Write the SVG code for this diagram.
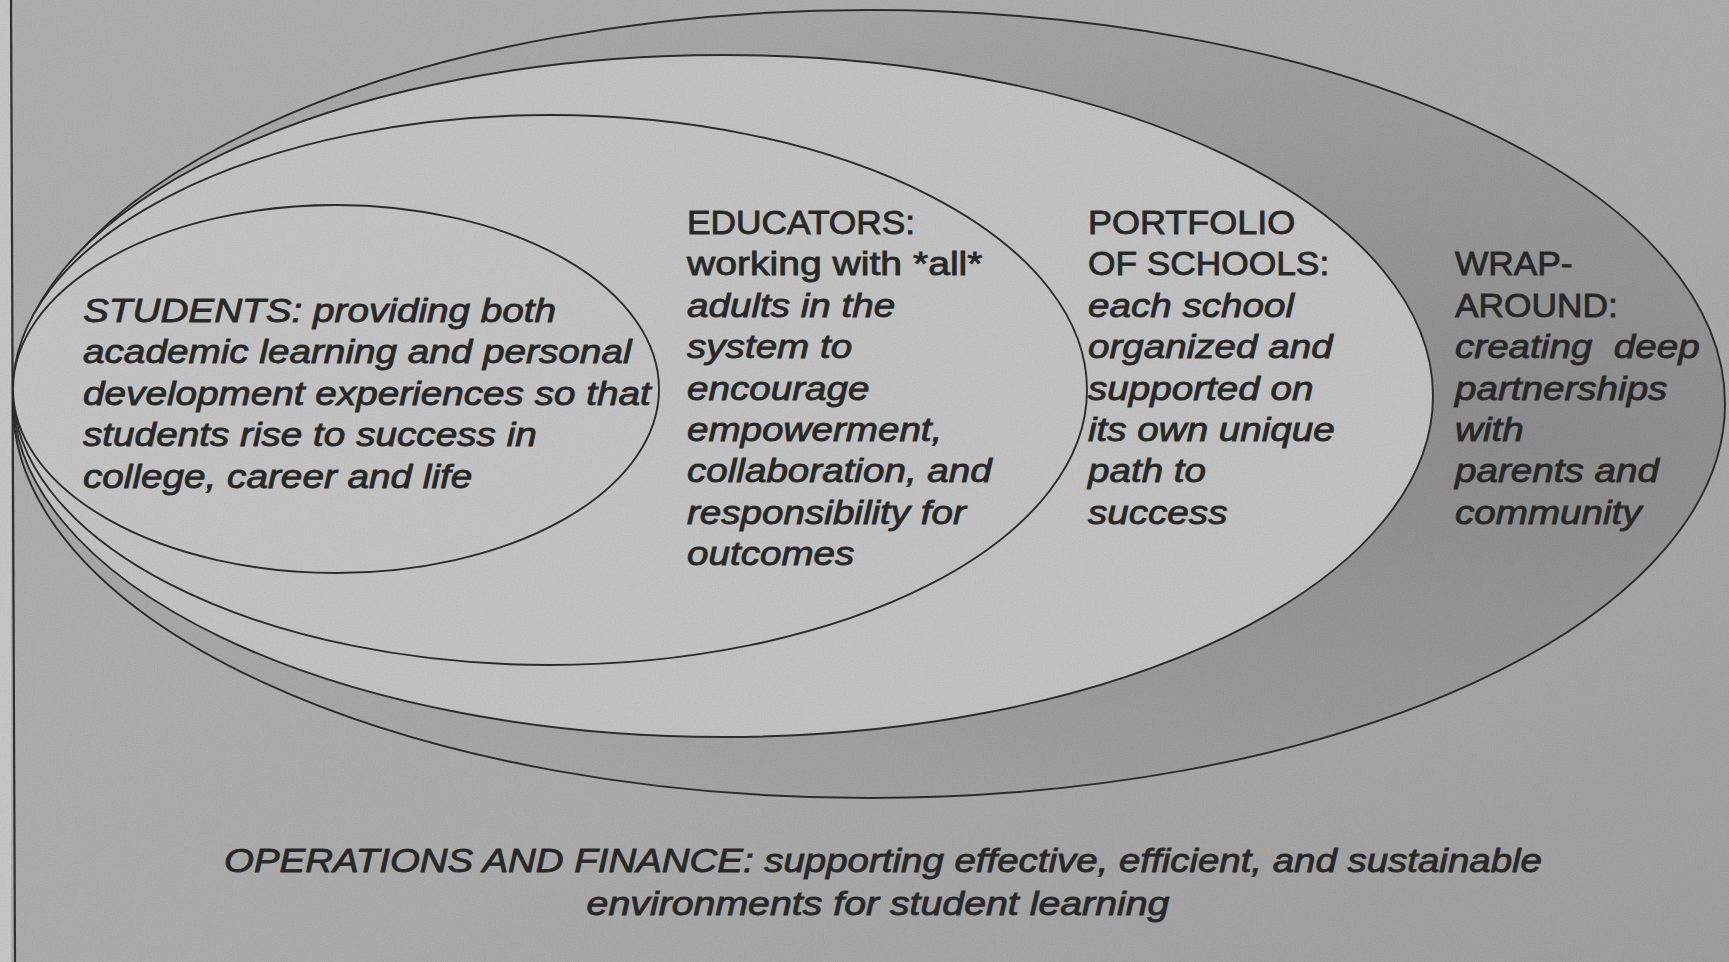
<svg xmlns="http://www.w3.org/2000/svg" width="1729" height="962" viewBox="0 0 1729 962">
  <defs>
    <style>
      .t { font-family: "Liberation Sans", Arial, Helvetica, sans-serif; font-size: 33px; fill: #121212; stroke: #121212; stroke-width: 0.9; }
      .i { font-style: italic; }
      .ring { stroke: #161616; stroke-width: 1.9; }
    </style>
    <linearGradient id="bg" x1="0" y1="0" x2="1" y2="1">
      <stop offset="0" stop-color="#aaaaaa"/>
      <stop offset="0.6" stop-color="#a6a6a6"/>
      <stop offset="1" stop-color="#979797"/>
    </linearGradient>
    <radialGradient id="wrapfill" cx="0.88" cy="0.55" r="0.75" fx="0.9" fy="0.55">
      <stop offset="0" stop-color="#838383"/>
      <stop offset="0.55" stop-color="#949494"/>
      <stop offset="1" stop-color="#a2a2a2"/>
    </radialGradient>
    <filter id="grain" x="0" y="0" width="100%" height="100%">
      <feTurbulence type="fractalNoise" baseFrequency="0.9" numOctaves="2" seed="3"/>
      <feColorMatrix type="saturate" values="0"/>
      <feComponentTransfer>
        <feFuncA type="linear" slope="0" intercept="0.22"/>
      </feComponentTransfer>
    </filter>
  </defs>

  <rect x="0" y="0" width="1729" height="962" fill="url(#bg)"/>
  <rect x="0" y="0" width="11" height="962" fill="#c4c4c4"/>
  <line x1="11" y1="0" x2="15" y2="962" stroke="#1a1a1a" stroke-width="2.2"/>

  <g id="connectors"></g>

  <g id="wraparound">
    <ellipse class="ring" cx="869" cy="404" rx="856" ry="394" fill="url(#wrapfill)"/>
    <text class="t" transform="translate(1455,275.4) scale(1.07,1)">WRAP-</text>
    <text class="t" transform="translate(1455,316.8) scale(1.07,1)">AROUND:</text>
    <text class="t i" transform="translate(1455,358.2) scale(1.17,1)"><tspan x="0" y="0" xml:space="preserve">creating  deep</tspan><tspan x="0" y="41.4">partnerships</tspan><tspan x="0" y="82.8">with</tspan><tspan x="0" y="124.2">parents and</tspan><tspan x="0" y="165.6">community</tspan></text>
  </g>

  <g id="portfolio">
    <ellipse class="ring" cx="723" cy="396" rx="710" ry="341" fill="#c0c0c0"/>
    <text class="t" transform="translate(1088,234) scale(1.09,1)">PORTFOLIO</text>
    <text class="t" transform="translate(1088,275.4) scale(1.07,1)">OF SCHOOLS:</text>
    <text class="t i" transform="translate(1088,316.8) scale(1.17,1)">
      <tspan x="0" y="0">each school</tspan>
      <tspan x="0" y="41.4">organized and</tspan>
      <tspan x="0" y="82.8">supported on</tspan>
      <tspan x="0" y="124.2">its own unique</tspan>
      <tspan x="0" y="165.6">path to</tspan>
      <tspan x="0" y="207">success</tspan>
    </text>
  </g>

  <g id="educators">
    <ellipse class="ring" cx="550" cy="390" rx="537" ry="275" fill="#c1c1c1"/>
    <text class="t" transform="translate(687,234) scale(1.07,1)">EDUCATORS:</text>
    <text class="t" transform="translate(687,275.4) scale(1.185,1)">working with *all*</text>
    <text class="t i" transform="translate(687,316.8) scale(1.17,1)">
      <tspan x="0" y="0">adults in the</tspan>
      <tspan x="0" y="41.4">system to</tspan>
      <tspan x="0" y="82.8">encourage</tspan>
      <tspan x="0" y="124.2">empowerment,</tspan>
      <tspan x="0" y="165.6">collaboration, and</tspan>
      <tspan x="0" y="207">responsibility for</tspan>
      <tspan x="0" y="248.4">outcomes</tspan>
    </text>
  </g>

  <g id="students">
    <ellipse class="ring" cx="336" cy="389" rx="323" ry="184" fill="#c2c2c2"/>
    <text class="t i" transform="translate(83,322) scale(1.173,1)">
      <tspan x="0" y="0">STUDENTS: providing both</tspan>
      <tspan x="0" y="41.4">academic learning and personal</tspan>
      <tspan x="0" y="82.8">development experiences so that</tspan>
      <tspan x="0" y="124.2">students rise to success in</tspan>
      <tspan x="0" y="165.6">college, career and life</tspan>
    </text>
  </g>

  <g id="operations">
    <text class="t i" text-anchor="middle" transform="translate(883,872) scale(1.165,1)">OPERATIONS AND FINANCE: supporting effective, efficient, and sustainable</text>
    <text class="t i" text-anchor="middle" transform="translate(878,915) scale(1.19,1)">environments for student learning</text>
  </g>

  <rect x="0" y="0" width="1729" height="962" filter="url(#grain)" opacity="0.6" pointer-events="none"/>
</svg>
